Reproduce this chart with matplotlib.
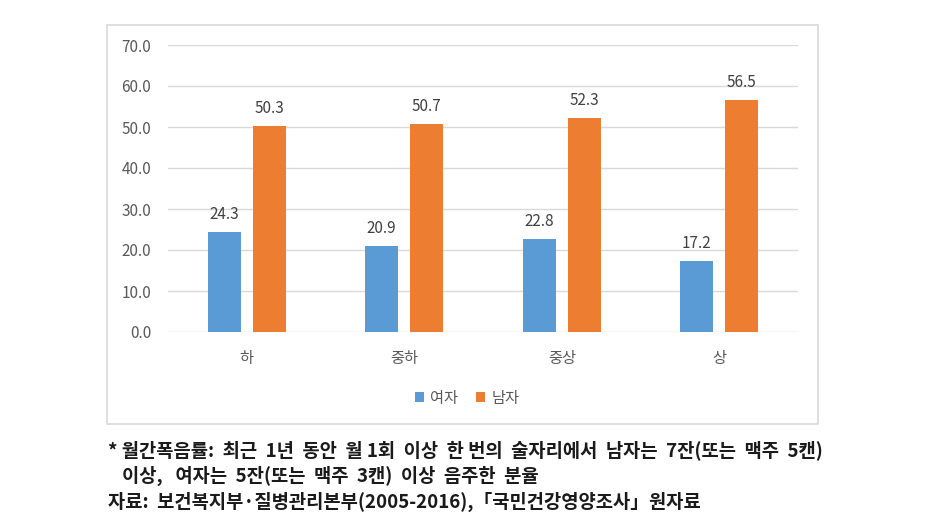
import matplotlib
matplotlib.use("Agg")
import matplotlib.pyplot as plt
from matplotlib.patches import Rectangle
import numpy as np

plt.rcParams['font.family'] = ['Noto Sans CJK KR', 'DejaVu Sans']

categories = ['하', '중하', '중상', '상']
female = [24.3, 20.9, 22.8, 17.2]
male = [50.3, 50.7, 52.3, 56.5]
series_names = ['여자', '남자']
yticks = [0, 10, 20, 30, 40, 50, 60, 70]

note_lines = [
    '* 월간폭음률:  최근  1년  동안  월 1회  이상  한 번의  술자리에서  남자는  7잔(또는  맥주  5캔)',
    '이상,   여자는  5잔(또는  맥주  3캔)  이상  음주한  분율',
    '자료:  보건복지부·질병관리본부(2005-2016),「국민건강영양조사」원자료',
]
note_x = [108, 122, 108]

W, H = 949, 525
fig = plt.figure(figsize=(W / 100, H / 100), dpi=100)

# chart frame
fig.patches.append(Rectangle((107 / W, 1 - 424 / H), (818 - 107) / W, (424 - 25) / H,
                             transform=fig.transFigure, fill=False,
                             edgecolor='#d9d9d9', linewidth=1.2))

ax = fig.add_axes([168 / W, 1 - 332 / H, (798 - 168) / W, (332 - 45) / H])
x = np.arange(len(categories))
bw = 0.21
off = 0.143
b1 = ax.bar(x - off, female, bw, color='#5B9BD5', label=series_names[0], zorder=3)
b2 = ax.bar(x + off, male, bw, color='#ED7D31', label=series_names[1], zorder=3)

for bars in (b1, b2):
    for r in bars:
        ax.text(r.get_x() + r.get_width() / 2, r.get_height() + 2.2,
                f'{r.get_height():.1f}', ha='center', va='bottom',
                fontsize=11, color='#404040')

ax.set_xlim(-0.5, 3.5)
ax.set_ylim(0, 70)
ax.set_yticks(yticks)
ax.set_yticklabels([f'{v:.1f}' for v in yticks], fontsize=11, color='#595959')
ax.set_xticks(x)
ax.set_xticklabels(categories, fontsize=11, color='#595959')
ax.tick_params(axis='both', length=0)
ax.tick_params(axis='y', pad=12)
ax.tick_params(axis='x', pad=13)
ax.grid(axis='y', color='#d9d9d9', linewidth=1, zorder=0)
for s in ax.spines.values():
    s.set_visible(False)

fig.legend(handles=[b1, b2], labels=series_names, loc='center',
           bbox_to_anchor=(467 / W, 1 - 398 / H), ncol=2, frameon=False,
           fontsize=11, handlelength=0.6, handleheight=0.6,
           handletextpad=0.4, columnspacing=1.2, labelcolor='#595959')

for i, line in enumerate(note_lines):
    fig.text(note_x[i] / W, 1 - (450 + 26 * i) / H, line, fontsize=13.5,
             fontweight='bold', color='#1a1a1a', va='center', ha='left')

fig.savefig('out.png', dpi=100)
